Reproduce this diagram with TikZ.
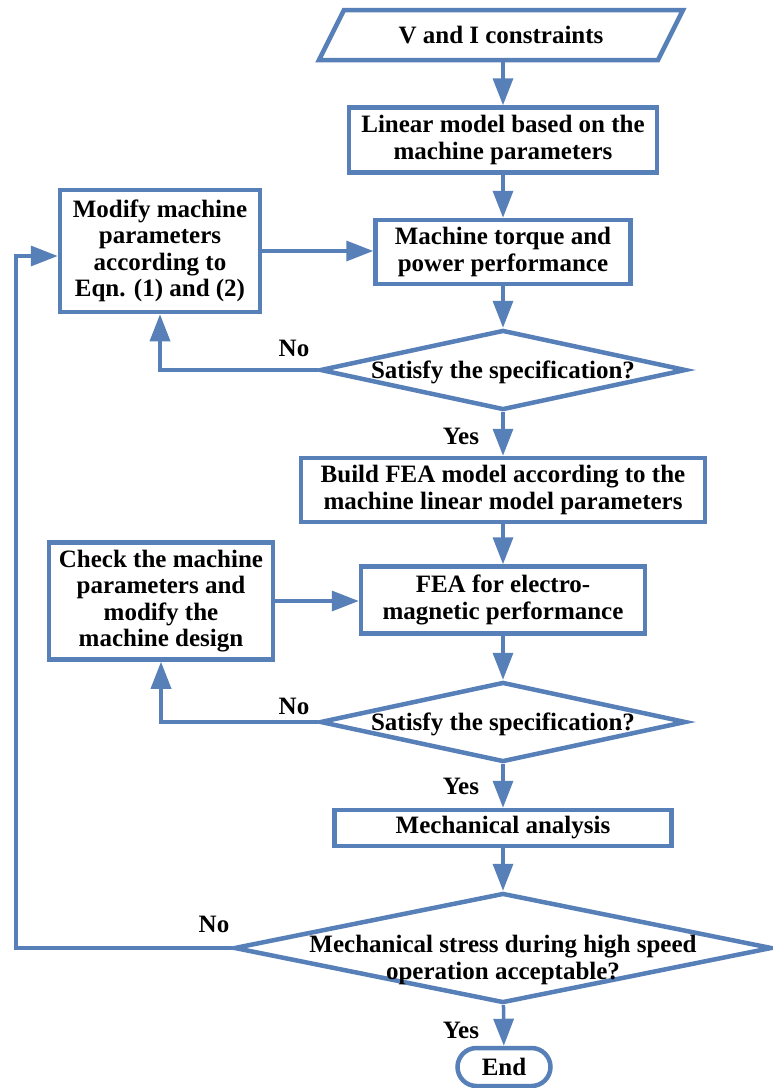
\documentclass[tikz,border=0pt]{standalone}
\usepackage{fontspec}
\setmainfont{Liberation Serif}
\usetikzlibrary{shapes.geometric,shapes.misc,arrows.meta}
\definecolor{flow}{RGB}{88,128,184}
% centred text, lowered by #1, that does not size the shape around it
\newcommand{\flattext}[2]{\makebox[0pt]{\raisebox{#1}[0pt][0pt]{\begin{tabular}{@{}c@{}}#2\end{tabular}}}}
\tikzset{
  txt/.style={font=\fontsize{25}{26.5}\selectfont\bfseries, align=center, inner sep=0pt},
  outline/.style={draw=flow, line width=4.5pt, line join=miter},
  shapebase/.style={txt, outline, fill=white},
  procbox/.style={shapebase, rectangle},
  decision/.style={shapebase, diamond},
  terminal/.style={shapebase, rounded rectangle},
  arr/.style={draw=flow, line width=3.5pt, -{Triangle[length=27pt,width=20pt]}},
  lbl/.style={txt}
}
\begin{document}
\begin{tikzpicture}[x=1pt,y=-1pt]
\useasboundingbox (0,0) rectangle (772,1088);

% input parallelogram
\draw[outline, fill=white, shift={(501,35)}] (-157,-25) -- (182,-25) -- (157,25) -- (-182,25) -- cycle;
\node[txt, minimum width=320, minimum height=50, outer sep=2.25pt] (in) at (501,35) {V and I constraints};

% main column
\node[procbox, minimum width=308, minimum height=65] (lin) at (503,140) {Linear model based on the\\machine parameters};
\node[procbox, minimum width=255, minimum height=64] (torque) at (503,252) {Machine torque and\\power performance};
\node[decision, minimum width=366, minimum height=80] (d1) at (503,370) {\flattext{-9pt}{Satisfy the specification?}};
\node[procbox, minimum width=404, minimum height=64] (fea) at (503,490) {Build FEA model according to the\\machine linear model parameters};
\node[procbox, minimum width=284, minimum height=67] (em) at (503,600) {FEA for electro-\\magnetic performance};
\node[decision, minimum width=366, minimum height=80] (d2) at (503,722) {\flattext{-9pt}{Satisfy the specification?}};
\node[procbox, minimum width=337, minimum height=36] (mech) at (503,828) {Mechanical analysis};
\node[decision, minimum width=538, minimum height=110] (d3) at (503,948) {\flattext{-19pt}{Mechanical stress during high speed\\operation acceptable?}};
\node[terminal, minimum width=93, minimum height=38] (end) at (504,1067) {End};

% side boxes
\node[procbox, minimum width=200, minimum height=122] (mod) at (160,251) {Modify machine\\parameters\\according to\\Eqn. (1) and (2)};
\node[procbox, minimum width=224, minimum height=117] (chk) at (161,601) {Check the machine\\parameters and\\modify the\\machine design};

% branch labels
\node[lbl] (no1) at (294,348) {No};
\node[lbl] (yes1) at (461,436) {Yes};
\node[lbl] (no2) at (294,706) {No};
\node[lbl] (yes2) at (461,786) {Yes};
\node[lbl] (no3) at (214,924) {No};
\node[lbl] (yes3) at (461,1030) {Yes};

\coordinate (loop) at (16,948);

% connectors
\draw[arr] (in.south -| lin.north) -- (lin);
\draw[arr] (lin) -- (torque);
\draw[arr] (torque) -- (d1);
\draw[arr] (d1) -- (fea);
\draw[arr] (fea) -- (em);
\draw[arr] (em) -- (d2);
\draw[arr] (d2) -- (mech);
\draw[arr] (mech) -- (d3);
\draw[arr] (d3) -- (end);
\draw[arr] (mod.east) -- (mod.east -| torque.west);
\draw[arr] (chk.east) -- (chk.east -| em.west);
\draw[arr] (d1.west) -| (mod.south);
\draw[arr] (d2.west) -| (chk.south);
\draw[arr] (d3.west) -- (loop) |- ([yshift=-5pt]mod.west);
\end{tikzpicture}
\end{document}
